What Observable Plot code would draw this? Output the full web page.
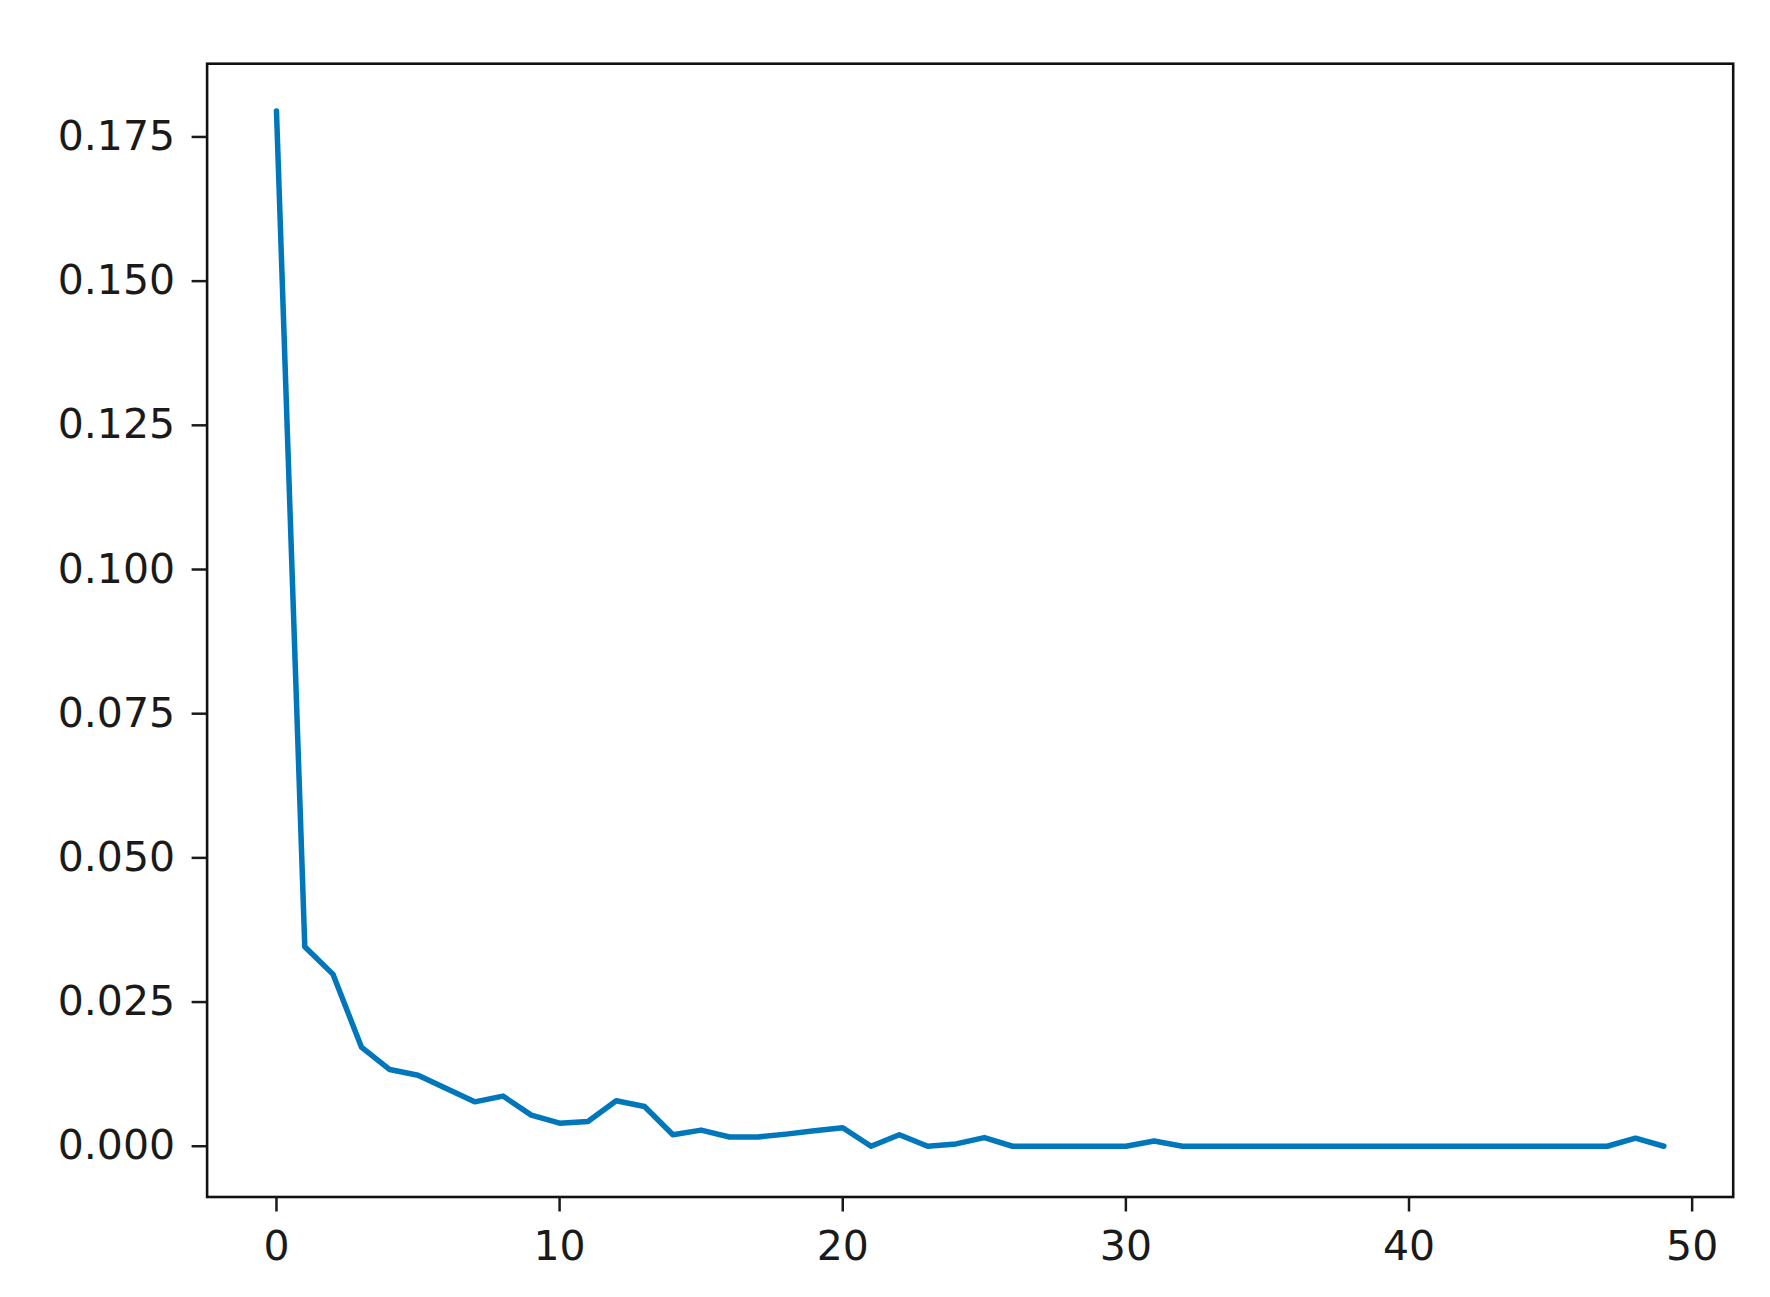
<!DOCTYPE html>
<html>
<head>
<meta charset="utf-8">
<script src="https://cdn.jsdelivr.net/npm/d3@7"></script>
<script src="https://cdn.jsdelivr.net/npm/@observablehq/plot@0.6"></script>
<style>
  html, body { margin: 0; padding: 0; background: #fff; }
  #chart { width: 1770px; height: 1297px; }
</style>
</head>
<body>
<div id="chart"></div>
<script>
const epochs = d3.range(0, 50);
const values = [
  0.1795, 0.0346, 0.0298, 0.0172, 0.0133, 0.0123, 0.0100, 0.0077, 0.0087, 0.0054,
  0.0040, 0.0043, 0.0079, 0.0069, 0.0020, 0.0028, 0.0016, 0.0016, 0.0021, 0.0027,
  0.0032, 0.0000, 0.0020, 0.0000, 0.0004, 0.0015, 0.0000, 0.0000, 0.0000, 0.0000,
  0.0000, 0.0009, 0.0000, 0.0000, 0.0000, 0.0000, 0.0000, 0.0000, 0.0000, 0.0000,
  0.0000, 0.0000, 0.0000, 0.0000, 0.0000, 0.0000, 0.0000, 0.0000, 0.0014, 0.0000
];
const xTicks = [0, 10, 20, 30, 40, 50];
const yTicks = [0, 0.025, 0.05, 0.075, 0.1, 0.125, 0.15, 0.175];
const xLimits = [-2.45, 51.45];
const yLimits = [-0.0088, 0.1877];

const data = epochs.map((e, i) => ({epoch: e, value: values[i]}));

const chart = Plot.plot({
  width: 1770,
  height: 1297,
  marginLeft: 206.6,
  marginRight: 37.3,
  marginTop: 63.2,
  marginBottom: 100.5,
  style: {fontFamily: "DejaVu Sans", color: "#1a1a1a", background: "white"},
  x: {domain: xLimits},
  y: {domain: yLimits},
  marks: [
    Plot.line(data, {x: "epoch", y: "value", stroke: "#0077bb", strokeWidth: 5.5, strokeLinecap: "round", strokeLinejoin: "round"}),
    Plot.frame({stroke: "#111", strokeWidth: 2.6}),
    Plot.axisX({ticks: xTicks, tickFormat: d3.format("d"), tickSize: 15, tickPadding: 19, fontSize: 41, strokeWidth: 2.5, label: null}),
    Plot.axisY({ticks: yTicks, tickFormat: d3.format(".3f"), tickSize: 15, tickPadding: 17, fontSize: 41, strokeWidth: 2.5, label: null})
  ]
});
document.getElementById("chart").appendChild(chart);
</script>
</body>
</html>
